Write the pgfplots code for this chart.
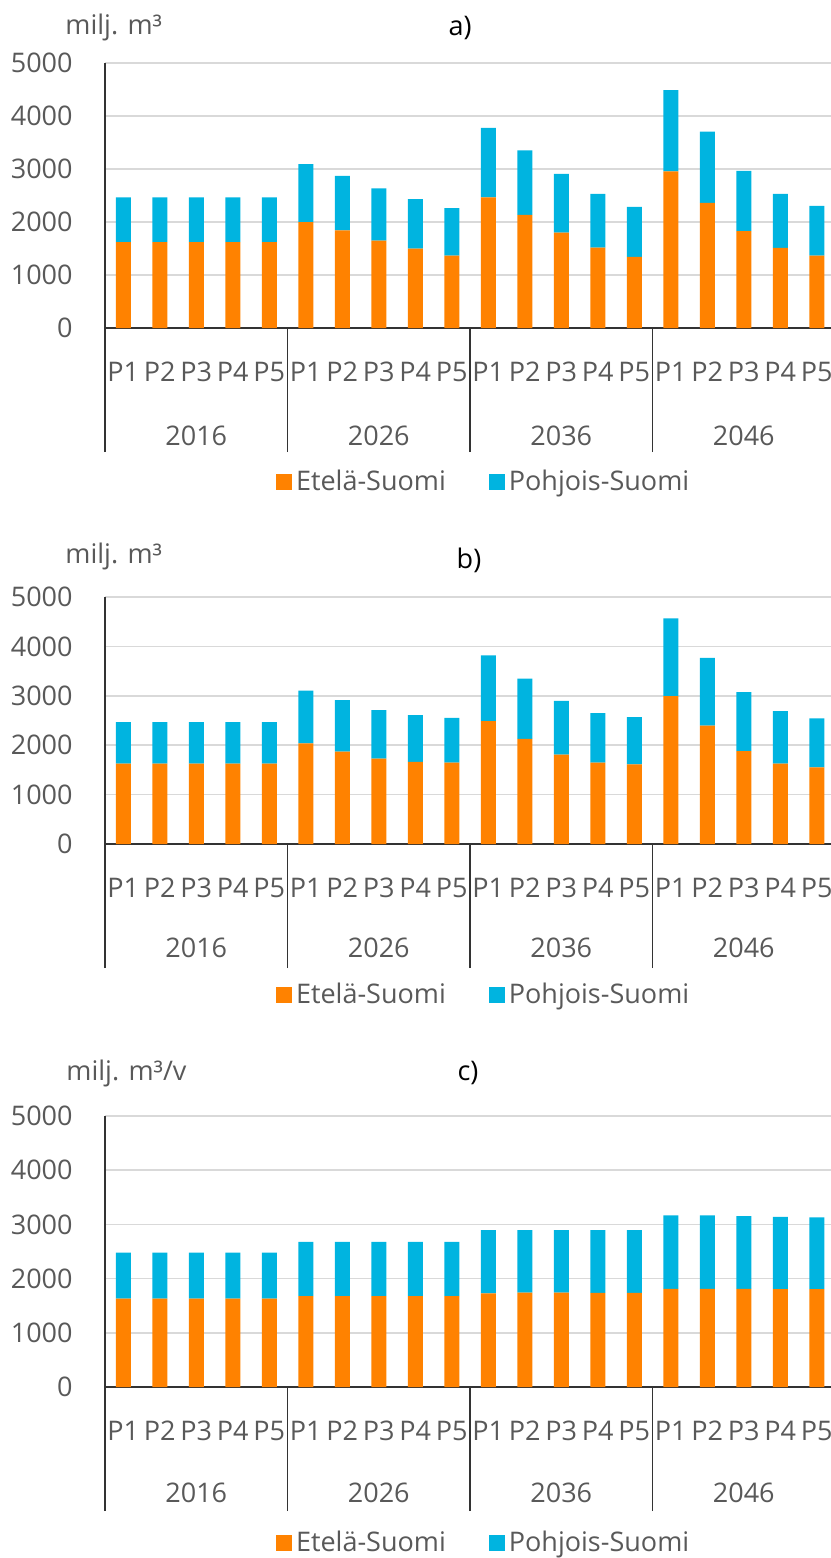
\documentclass[border=0pt]{standalone}
\usepackage{fontspec}
\setmainfont{Open Sans}
\usepackage{pgfplots}
\pgfplotsset{compat=1.18}
\definecolor{orangeS}{HTML}{FF8200}
\definecolor{cyanN}{HTML}{00B4E0}
\definecolor{txt}{HTML}{595959}
\definecolor{gridc}{HTML}{D9D9D9}
\newcommand{\fs}{\fontsize{13.5pt}{16pt}\selectfont}
\pgfplotsset{
  panel/.style={
    scale only axis, anchor=south west, width=365pt,
    xmin=0.5, xmax=20.5, ymin=0, ymax=5000,
    ybar stacked, bar width=7.5pt, clip=false,
    axis x line*=bottom, axis y line*=left,
    axis line style={black!80, line width=0.75pt, -},
    ymajorgrids, grid style={gridc, line width=0.75pt},
    ytick={0,1000,...,5000},
    xtick={1,...,20},
    xticklabels={P1,P2,P3,P4,P5,P1,P2,P3,P4,P5,P1,P2,P3,P4,P5,P1,P2,P3,P4,P5},
    major tick length=0pt,
    /pgf/number format/assume math mode=true,
    /pgf/number format/1000 sep={},
    yticklabel style={font=\fs, text=txt, anchor=east, inner sep=0pt, xshift=-16pt},
    xticklabel style={font=\fs, text=txt, anchor=center, inner sep=0pt, yshift=-22pt},
    extra x ticks={0.5,5.5,10.5,15.5},
    extra x tick labels={},
    extra x tick style={major tick length=62pt, tick align=outside, tick style={draw=black!80, line width=0.75pt}},
    legend columns=2,
    legend style={draw=none, fill=none, font=\fs, text=txt, anchor=center,
      /tikz/every even column/.append style={column sep=19.5pt},
      nodes={inner sep=2pt}},
    legend image code/.code={\fill[#1] (0pt,-4pt) rectangle (8pt,4pt);},
  },
  south/.style={fill=orangeS, draw=none},
  north/.style={fill=cyanN, draw=none},
}
\newcommand{\years}[1]{%
  \node[font=\fs, text=txt] at (axis cs:3,0) [yshift=-#1] {2016};
  \node[font=\fs, text=txt] at (axis cs:8,0) [yshift=-#1] {2026};
  \node[font=\fs, text=txt] at (axis cs:13,0) [yshift=-#1] {2036};
  \node[font=\fs, text=txt] at (axis cs:18,0) [yshift=-#1] {2046};
}
\begin{document}
\begin{tikzpicture}
\useasboundingbox (0,0) rectangle (415pt,-779pt);
% ---------------- a)
\node[anchor=west, text=txt, font=\fs, inner sep=0pt] at (32.5pt,-13.5pt) {milj. m³};
\node[font=\fs, inner sep=0pt] at (230pt,-14pt) {a)};
\begin{axis}[panel, at={(52.5pt,-164pt)}, height=132.5pt,
  legend style={at={(rel axis cs:0.52,-0.581)}}]
\addplot[south] coordinates {(1,1620) (2,1620) (3,1620) (4,1620) (5,1620)
 (6,2000) (7,1840) (8,1650) (9,1500) (10,1365)
 (11,2465) (12,2135) (13,1800) (14,1515) (15,1340)
 (16,2955) (17,2360) (18,1830) (19,1510) (20,1365)};
\addplot[north] coordinates {(1,845) (2,845) (3,845) (4,845) (5,845)
 (6,1090) (7,1030) (8,985) (9,930) (10,895)
 (11,1310) (12,1215) (13,1110) (14,1015) (15,945)
 (16,1535) (17,1345) (18,1135) (19,1020) (20,940)};
\legend{Etelä-Suomi, Pohjois-Suomi}
\years{54pt}
\end{axis}
% ---------------- b)
\node[anchor=west, text=txt, font=\fs, inner sep=0pt] at (32.5pt,-278pt) {milj. m³};
\node[font=\fs, inner sep=0pt] at (234.5pt,-280pt) {b)};
\begin{axis}[panel, at={(52.5pt,-422pt)}, height=123.5pt,
  legend style={at={(rel axis cs:0.52,-0.611)}}]
\addplot[south] coordinates {(1,1625) (2,1625) (3,1625) (4,1625) (5,1625)
 (6,2035) (7,1870) (8,1730) (9,1665) (10,1650)
 (11,2490) (12,2130) (13,1810) (14,1650) (15,1610)
 (16,2995) (17,2395) (18,1880) (19,1625) (20,1550)};
\addplot[north] coordinates {(1,840) (2,840) (3,840) (4,840) (5,840)
 (6,1070) (7,1045) (8,980) (9,945) (10,905)
 (11,1330) (12,1220) (13,1090) (14,1000) (15,960)
 (16,1575) (17,1375) (18,1195) (19,1065) (20,995)};
\legend{Etelä-Suomi, Pohjois-Suomi}
\years{52pt}
\end{axis}
% ---------------- c)
\node[anchor=west, text=txt, font=\fs, inner sep=0pt] at (33pt,-536.5pt) {milj. m³/v};
\node[font=\fs, inner sep=0pt] at (234pt,-536.5pt) {c)};
\begin{axis}[panel, at={(52.5pt,-693.5pt)}, height=135.5pt,
  legend style={at={(rel axis cs:0.52,-0.576)}}]
\addplot[south] coordinates {(1,1630) (2,1630) (3,1630) (4,1630) (5,1630)
 (6,1675) (7,1675) (8,1675) (9,1675) (10,1675)
 (11,1730) (12,1740) (13,1740) (14,1735) (15,1735)
 (16,1810) (17,1810) (18,1810) (19,1805) (20,1805)};
\addplot[north] coordinates {(1,850) (2,850) (3,850) (4,850) (5,850)
 (6,1005) (7,1005) (8,1005) (9,1005) (10,1005)
 (11,1165) (12,1155) (13,1155) (14,1160) (15,1160)
 (16,1355) (17,1355) (18,1345) (19,1335) (20,1325)};
\legend{Etelä-Suomi, Pohjois-Suomi}
\years{53pt}
\end{axis}
\end{tikzpicture}
\end{document}
